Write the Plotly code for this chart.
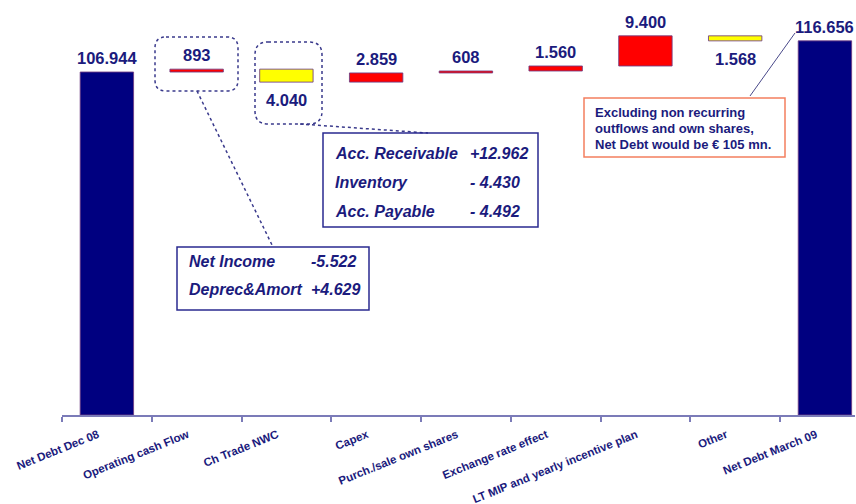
import plotly.graph_objects as go

# ---------------- data ----------------
categories = ["Net Debt Dec 08", "Operating cash Flow", "Ch Trade NWC", "Capex",
              "Purch./sale own shares", "Exchange rate effect",
              "LT MIP and yearly incentive plan", "Other", "Net Debt March 09"]
measures = ["total", "relative", "relative", "relative", "relative",
            "relative", "relative", "relative", "total"]
values = [106944, 893, -4040, 2859, 608, 1560, 9400, -1568, 116656]

ocf_items = ["Net Income", "Deprec&Amort"]
ocf_values = ["-5.522", "+4.629"]
nwc_items = ["Acc. Receivable", "Inventory", "Acc. Payable"]
nwc_values = ["+12.962", "- 4.430", "- 4.492"]
note_lines = ["Excluding non recurring", "outflows and own shares,",
              "Net Debt would be € 105 mn."]

# ---------------- styling ----------------
NAVY = "#000080"
TXT = "#1B1B7D"
RED = "#FF0000"
YELLOW = "#FFFF00"
FONT = "Liberation Sans, Arial, sans-serif"

W, H = 856, 504
L, R, T, B = 62, 1, 0, 89
PW = W - L - R
PH = H - T - B


def px(x):
    return (x - L) / PW


def py(y):
    return (H - B - y) / PH


# ---------------- waterfall geometry ----------------
bases, heights, colors = [], [], []
running = 0
for m, v in zip(measures, values):
    if m == "total":
        bases.append(0)
        heights.append(v)
        colors.append(NAVY)
        running = v
    else:
        bases.append(running if v > 0 else running + v)
        heights.append(abs(v))
        colors.append(RED if v > 0 else YELLOW)
        running += v


def fmt(v):
    return f"{abs(v):,}".replace(",", ".")


fig = go.Figure()
fig.add_trace(go.Bar(
    x=categories, y=heights, base=bases,
    marker=dict(color=colors, line=dict(color="rgba(110,60,130,0.85)", width=1)),
    width=0.595, hoverinfo="skip", showlegend=False,
))

annotations = []
for c, m, v, b, h in zip(categories, measures, values, bases, heights):
    if m == "total" or v > 0:
        annotations.append(dict(x=c, y=b + h, xref="x", yref="y", text=f"<b>{fmt(v)}</b>",
                                showarrow=False, yanchor="bottom", yshift=3,
                                font=dict(family=FONT, size=16.5, color=TXT)))
    else:
        annotations.append(dict(x=c, y=b, xref="x", yref="y", text=f"<b>{fmt(v)}</b>",
                                showarrow=False, yanchor="top", yshift=-7,
                                font=dict(family=FONT, size=16.5, color=TXT)))


def txt(x, y, s, size=16, italic=True):
    inner = f"<i>{s}</i>" if italic else s
    annotations.append(dict(x=px(x), y=py(y), xref="paper", yref="paper",
                            text=f"<b>{inner}</b>", showarrow=False,
                            xanchor="left", yanchor="middle",
                            font=dict(family=FONT, size=size, color=TXT)))


# Operating cash flow detail box
for i, (it, val) in enumerate(zip(ocf_items, ocf_values)):
    yy = 261 + i * 28.5
    txt(187, yy, it)
    txt(309, yy, val)

# NWC detail box
for i, (it, val) in enumerate(zip(nwc_items, nwc_values)):
    yy = 153.5 + i * 29
    txt(333, yy, it)
    txt(468, yy, val)

# Note box
for i, line in enumerate(note_lines):
    txt(593, 112 + i * 16.3, line, size=13, italic=False)

shapes = []


def rect(x0, y0, x1, y1, color, width=1.5):
    shapes.append(dict(type="rect", xref="paper", yref="paper",
                       x0=px(x0), x1=px(x1), y0=py(y1), y1=py(y0),
                       line=dict(color=color, width=width), fillcolor="rgba(0,0,0,0)"))


def rrect(x0, y0, x1, y1, r, color):
    X0, X1 = px(x0), px(x1)
    Yt, Yb = py(y0), py(y1)
    rx, ry = r / PW, r / PH
    path = (f"M {X0+rx},{Yt} L {X1-rx},{Yt} Q {X1},{Yt} {X1},{Yt-ry} "
            f"L {X1},{Yb+ry} Q {X1},{Yb} {X1-rx},{Yb} L {X0+rx},{Yb} "
            f"Q {X0},{Yb} {X0},{Yb+ry} L {X0},{Yt-ry} Q {X0},{Yt} {X0+rx},{Yt} Z")
    shapes.append(dict(type="path", xref="paper", yref="paper", path=path,
                       line=dict(color=color, width=1.5, dash="dot")))


def seg(x0, y0, x1, y1, color, dash="solid", width=1):
    shapes.append(dict(type="line", xref="paper", yref="paper",
                       x0=px(x0), y0=py(y0), x1=px(x1), y1=py(y1),
                       line=dict(color=color, width=width, dash=dash)))


DOT = "#3A3A8C"
rrect(155, 37, 238, 91, 11, DOT)
rrect(255, 42, 322, 124, 13, DOT)
seg(197, 91, 273, 247, DOT, dash="dot", width=1.5)
seg(300, 124, 428, 133, DOT, dash="dot", width=1.5)
rect(177, 247, 369, 310, "#2A2A90", 1.5)
rect(323, 133, 538, 227, "#2A2A90", 1.5)
rect(584, 98, 785, 157, "#F47F5F", 1.5)
seg(750, 96, 795, 33, "#4A4A8A", width=1)

fig.update_layout(
    width=W, height=H,
    margin=dict(l=L, r=R, t=T, b=B),
    plot_bgcolor="white", paper_bgcolor="white",
    showlegend=False,
    annotations=annotations,
    shapes=shapes,
    xaxis=dict(type="category", range=[-0.5, 8.335], showline=True,
               linecolor="#7B7BB8", linewidth=1.5, ticks="outside",
               tickson="boundaries", ticklen=5, tickcolor="#7B7BB8",
               tickwidth=1.5, tickangle=-22, showgrid=False, zeroline=False,
               ticklabelshift=-9, ticklabelstandoff=7,
               tickfont=dict(family=FONT, size=11.5, color=TXT, weight="bold")),
    yaxis=dict(range=[0, 129400], visible=False, showgrid=False, zeroline=False),
)

fig.write_html("out.html")
